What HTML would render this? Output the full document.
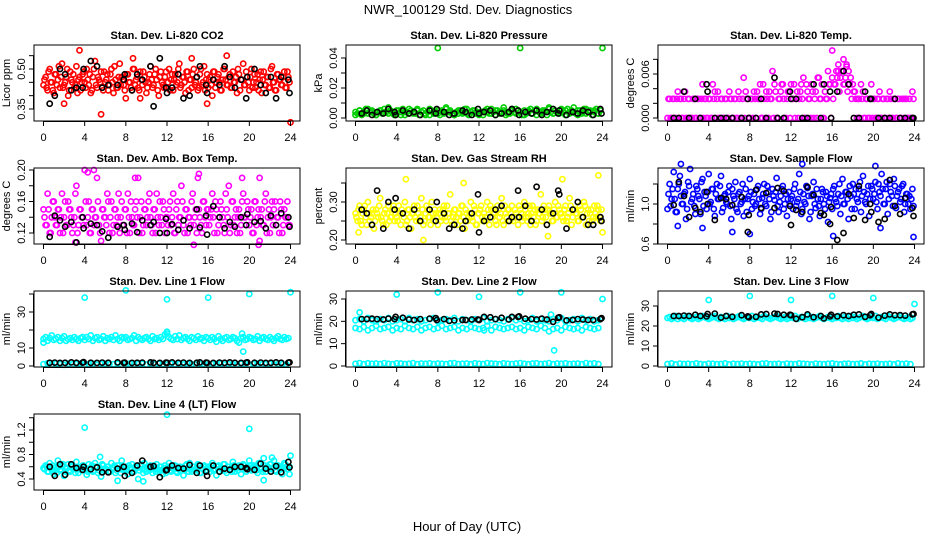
<!DOCTYPE html>
<html><head><meta charset="utf-8"><style>
html,body{margin:0;padding:0;background:#fff;}
svg{display:block;font-family:"Liberation Sans",Arial,sans-serif;}
</style></head><body>
<svg id="chart" width="936" height="540" viewBox="0 0 936 540" xmlns="http://www.w3.org/2000/svg">
<rect width="936" height="540" fill="#fff"/>
<text x="468" y="14" font-size="13" text-anchor="middle">NWR_100129  Std. Dev. Diagnostics</text>
<text x="467" y="531" font-size="13" text-anchor="middle">Hour of Day (UTC)</text>
</svg>
<script>
// ---------- data ----------
const xTicks = [0,4,8,12,16,20,24];
const mainHours = Array.from({length:120},(_,i)=>i*0.2);
const mainHours2 = Array.from({length:120},(_,i)=>i*0.2+0.1);
const halfHours = Array.from({length:60},(_,i)=>i*0.4);
const blackHours = [.6,1.1,1.6,2.1,2.7,3.2,3.8,3.9,4.6,5.2,5.7,6.3,7.2,7.8,7.9,8.6,9.1,9.6,10.4,10.7,11.3,11.9,12,12.5,13.1,13.6,14.2,14.9,15.2,15.8,15.9,16.5,17.1,17.6,18.1,18.6,19.2,19.7,19.8,20.5,21.1,21.6,22.1,22.6,23.1,23.8,23.9];

// P1 CO2
const co2Main = [.44,.47,.42,.50,.45,.41,.48,.46,.43,.52,.44,.47,.40,.49,.45,.43,.51,.46,.42,.48,
.45,.50,.44,.41,.47,.53,.43,.46,.49,.42,.45,.48,.44,.50,.41,.46,.43,.52,.47,.44,
.39,.48,.45,.42,.50,.46,.43,.49,.44,.47,.41,.45,.51,.43,.48,.46,.40,.49,.44,.47,
.43,.50,.46,.42,.48,.45,.52,.44,.47,.41,.49,.46,.43,.50,.45,.42,.48,.44,.51,.46,
.43,.47,.40,.49,.45,.48,.42,.46,.50,.44,.47,.43,.49,.45,.41,.48,.46,.52,.44,.47,
.42,.50,.45,.43,.48,.46,.41,.49,.44,.47,.43,.51,.45,.42,.48,.46,.44,.49,.43,.47];
const co2Main2 = [.46,.43,.49,.45,.42,.48,.44,.51,.47,.43,.45,.50,.42,.46,.48,.44,.41,.47,.45,.49,
.43,.46,.48,.42,.50,.44,.47,.45,.43,.49,.46,.42,.48,.45,.51,.43,.47,.44,.46,.42,
.48,.45,.43,.50,.44,.47,.42,.46,.49,.45,.43,.48,.46,.44,.50,.42,.47,.45,.43,.49,
.45,.42,.48,.46,.44,.50,.43,.47,.45,.49,.42,.46,.48,.44,.47,.43,.50,.45,.42,.48,
.46,.44,.49,.43,.47,.45,.42,.50,.46,.44,.48,.43,.45,.47,.50,.42,.46,.44,.49,.45,
.47,.43,.48,.45,.42,.49,.46,.44,.47,.43,.50,.45,.42,.48,.46,.44,.47,.43,.49,.45];
const co2OutHours = [3.5,8.7,5.6,24,17.8,9.4,2,15.9,14.4];
const co2OutVals = [.57,.54,.33,.30,.55,.39,.37,.37,.54];
const co2Black = [.37,.40,.50,.48,.42,.43,.43,.50,.53,.51,.43,.44,.44,.46,.48,.42,.48,.46,.51,.36,.54,.43,.41,.43,.48,.39,.40,.47,.51,.44,.41,.46,.44,.51,.47,.43,.46,.39,.47,.50,.44,.41,.47,.39,.47,.46,.41];

// P2 Pressure
const presMain = [.004,.003,.005,.002,.004,.006,.003,.004,.005,.003,.002,.004,.005,.003,.006,.004,.003,.005,.004,.002,
.003,.005,.004,.006,.002,.004,.003,.005,.004,.003,.006,.002,.004,.005,.003,.004,.002,.005,.003,.004,
.005,.002,.004,.003,.006,.004,.005,.003,.002,.004,.003,.005,.004,.006,.003,.002,.004,.005,.003,.004,
.003,.004,.002,.005,.004,.003,.006,.004,.002,.005,.003,.004,.005,.002,.004,.003,.006,.004,.003,.005,
.004,.002,.005,.003,.004,.006,.003,.005,.002,.004,.003,.005,.004,.002,.006,.004,.003,.005,.004,.003,
.005,.004,.002,.006,.003,.005,.004,.003,.002,.005,.004,.006,.003,.004,.005,.002,.004,.006,.003,.005];
const presMain2 = [.002,.005,.003,.006,.004,.002,.005,.004,.007,.003,.005,.002,.004,.006,.003,.005,.004,.002,.006,.004,
.003,.005,.007,.004,.002,.005,.003,.006,.004,.005,.002,.004,.006,.003,.005,.004,.007,.003,.005,.006,
.004,.002,.005,.003,.006,.004,.005,.007,.003,.004,.006,.005,.004,.007,.005,.003,.006,.004,.005,.003];
const presOutHours = [8,16,24];
const presOutVals = [.0467,.0467,.0467];
const presBlack = [.003,.005,.002,.004,.003,.006,.004,.002,.005,.003,.004,.002,.005,.003,.006,.004,.002,.003,.005,.004,.002,.006,.003,.004,.005,.002,.003,.004,.006,.005,.002,.004,.003,.005,.002,.004,.006,.003,.005,.002,.004,.003,.005,.004,.002,.006,.003];

// P3 Li-820 Temp
const tempMain = [0,.0026,0,.0026,0,.0036,.0026,0,.0026,0,.0026,0,0,.0026,0,.0026,0,.0046,.0026,0,
.0026,0,.0046,.0036,.0026,0,.0026,0,.0026,0,.0036,.0026,0,.0026,0,.0026,0,.0055,.0036,.0026,
0,.0026,.0036,0,.0026,.0046,0,.0026,.0036,0,.0026,.0064,.0046,0,.0026,.0036,.0046,0,.0026,.0036,
.0046,.0026,0,.0036,.0026,.0046,.0055,0,.0036,.0026,.0046,0,.0036,.0055,.0026,.0046,0,.0026,.0064,.0046,
.0055,.0046,.0064,.0073,.0055,.0064,.0046,.0073,.0064,.0055,.0046,.0036,0,.0026,.0046,.0036,0,.0026,0,.0046,
.0026,0,.0026,.0036,0,.0026,0,.0026,.0036,0,.0026,0,.0026,0,.0026,0,.0026,0,0,.0036];
const tempMain2 = [.0026,0,.0026,0,.0026,0,.0026,0,.0036,0,.0026,0,.0026,0,.0026,0,.0026,0,.0026,0,
.0026,0,.0026,0,.0036,0,.0026,0,.0026,0,.0026,0,.0026,0,.0036,0,.0026,0,.0026,0,
.0026,0,.0026,.0036,.0026,0,.0046,0,.0026,.0036,.0026,0,.0036,0,.0026,.0046,.0026,0,.0036,0,
.0026,.0046,.0026,0,.0036,.0026,0,.0046,.0026,0,.0036,.0026,0,.0055,.0026,0,.0036,.0026,.0046,0,
.0026,.0046,.0055,.0036,.0064,.0046,.0055,.0036,.0046,.0026,.0036,.0026,.0026,0,.0026,0,.0026,0,.0026,0,
.0026,0,.0026,0,.0026,0,.0026,0,.0026,0,.0026,0,.0026,0,.0026,.0026,0,.0026,0,.0026];
const tempOutHours = [16,17.1,16.6,17.4];
const tempOutVals = [.0092,.0080,.0064,.0070];
const tempBlack = [0,0,.0036,0,.0026,0,.0046,.0036,0,0,0,0,0,.0026,0,0,.0026,0,.0055,0,0,.0036,.0026,.0026,0,0,.0046,0,.0046,.0036,0,.0036,.0064,.0046,0,0,.0036,.0026,.0026,0,0,0,.0026,0,0,0,0];

// P4 Amb Box Temp
const ambMain = [.15,.13,.17,.12,.14,.16,.13,.15,.12,.17,.14,.13,.16,.15,.12,.14,.18,.13,.15,.14,
.20,.13,.16,.12,.15,.14,.19,.13,.11,.15,.14,.17,.12,.16,.13,.15,.14,.12,.16,.13,
.15,.17,.12,.14,.13,.16,.19,.14,.12,.15,.13,.16,.14,.12,.15,.17,.13,.14,.16,.12,
.14,.15,.13,.17,.12,.16,.14,.18,.13,.15,.12,.14,.16,.13,.15,.19,.14,.12,.16,.13,
.15,.14,.17,.12,.15,.13,.16,.14,.12,.15,.18,.13,.16,.14,.12,.15,.13,.17,.14,.16,
.13,.15,.12,.16,.14,.11,.15,.13,.17,.14,.12,.16,.15,.13,.14,.16,.12,.15,.14,.13];
const ambMain2 = [.14,.13,.15,.12,.16,.14,.13,.15,.14,.12,.16,.13,.15,.14,.13,.17,.12,.15,.14,.13,
.16,.14,.12,.15,.13,.14,.16,.12,.15,.14,.13,.16,.14,.12,.15,.13,.17,.14,.13,.15,
.12,.14,.16,.13,.15,.14,.12,.16,.13,.15,.14,.17,.13,.15,.12,.14,.16,.13,.15,.14,
.13,.16,.14,.12,.15,.13,.14,.16,.12,.15,.14,.13,.17,.14,.12,.15,.13,.16,.14,.15,
.13,.15,.14,.16,.12,.14,.15,.13,.17,.14,.12,.16,.13,.15,.14,.12,.16,.14,.13,.15,
.14,.12,.16,.13,.15,.14,.13,.16,.12,.15,.14,.13,.16,.14,.12,.15,.13,.14,.16,.13];
const ambOutHours = [4.3,4.9,8.9,15.1,19.3,21,14.6,20.9,3.1];
const ambOutVals = [.197,.20,.19,.195,.19,.19,.105,.105,.108];
const ambBlack = [.115,.142,.136,.128,.134,.108,.14,.126,.132,.13,.122,.114,.128,.13,.124,.132,.121,.136,.13,.134,.12,.138,.12,.131,.124,.136,.126,.15,.127,.142,.118,.154,.14,.126,.134,.128,.14,.13,.144,.134,.135,.126,.142,.13,.145,.14,.128];

// P5 Gas Stream RH
const rhMain = [.27,.25,.29,.24,.28,.26,.30,.25,.27,.23,.28,.26,.31,.25,.27,.24,.29,.26,.28,.25,
.26,.29,.24,.27,.30,.25,.28,.23,.27,.26,.29,.25,.31,.24,.27,.28,.26,.30,.25,.27,
.24,.28,.26,.29,.25,.27,.32,.24,.28,.26,.27,.25,.29,.23,.27,.26,.30,.25,.28,.24,
.27,.29,.25,.26,.30,.24,.28,.27,.25,.29,.26,.31,.24,.27,.28,.25,.29,.26,.27,.24,
.28,.25,.30,.26,.27,.24,.29,.28,.25,.27,.32,.26,.28,.24,.29,.27,.25,.30,.26,.28,
.27,.25,.29,.26,.31,.24,.28,.27,.25,.29,.26,.30,.24,.28,.27,.25,.29,.26,.28,.25];
const rhMain2 = [.26,.28,.25,.27,.29,.24,.27,.26,.28,.25,.27,.29,.26,.24,.28,.27,.25,.26,.29,.27,
.25,.27,.28,.26,.24,.28,.26,.27,.29,.25,.27,.26,.28,.25,.29,.26,.24,.27,.28,.26,
.27,.25,.28,.26,.29,.27,.25,.26,.28,.24,.27,.29,.26,.28,.25,.27,.26,.29,.24,.27,
.28,.26,.27,.25,.28,.29,.26,.27,.24,.28,.27,.25,.29,.26,.28,.27,.25,.28,.26,.29,
.27,.26,.28,.25,.29,.27,.26,.24,.28,.27,.25,.29,.26,.28,.27,.25,.28,.26,.29,.27,
.26,.28,.25,.27,.29,.26,.28,.27,.25,.28,.26,.29,.27,.25,.28,.26,.27,.29,.26,.28];
const rhOutHours = [4.9,10.5,20.1,23.6,6.6,18.7,0.3,24];
const rhOutVals = [.36,.35,.36,.37,.20,.21,.22,.22];
const rhBlack = [.28,.27,.24,.33,.23,.30,.28,.31,.27,.23,.28,.25,.28,.25,.30,.27,.23,.24,.23,.25,.27,.32,.22,.25,.26,.28,.29,.25,.26,.33,.26,.29,.25,.34,.28,.24,.27,.33,.32,.23,.28,.30,.26,.24,.24,.26,.25];

// P6 Sample Flow
const sfMain = [.95,1.20,1.05,1.32,.92,1.15,1.28,1.00,1.10,.85,1.22,1.35,1.05,.98,1.18,1.08,.90,1.25,1.12,.95,
1.30,1.02,1.15,.88,1.20,1.05,1.28,.96,1.10,1.00,1.18,.85,1.08,1.22,.92,1.12,1.02,.88,1.15,1.05,
1.25,.95,1.10,1.00,1.18,.90,1.06,1.20,.98,1.12,.85,1.15,1.04,1.26,.92,1.08,1.18,1.00,.88,1.12,
1.05,.95,1.20,1.02,1.30,.90,1.10,1.00,1.16,.85,1.08,1.22,.96,1.05,.88,1.15,1.00,1.12,.82,1.06,
.95,1.18,1.02,1.10,.90,1.25,1.00,1.12,.85,1.08,1.20,.95,1.05,1.15,.92,1.28,1.02,1.10,.88,1.18,
1.05,1.22,.95,1.12,1.30,1.00,1.15,.90,1.20,1.08,1.25,.96,1.12,1.02,1.18,.92,1.10,1.00,.95,1.15];
const sfMain2 = [1.10,.98,1.15,1.05,.92,1.20,1.08,1.00,1.12,.95,1.18,1.02,1.10,.90,1.15,1.05,1.22,.98,1.08,1.12,
1.00,1.15,.95,1.10,1.05,1.18,.92,1.08,1.02,1.12,.98,1.15,1.05,.95,1.10,1.00,1.20,1.05,.92,1.08,
1.12,1.02,.98,1.15,1.05,.95,1.10,1.00,1.18,1.05,.92,1.08,1.12,.98,1.02,1.15,.95,1.10,1.05,1.00,
1.08,1.15,.98,1.05,1.12,.95,1.02,1.18,1.08,.92,1.10,1.00,1.15,.98,1.05,1.12,.95,1.08,1.02,1.10,
1.15,1.05,.98,1.20,1.08,1.00,1.12,1.05,1.18,.95,1.10,1.15,1.02,1.22,1.08,1.12,1.00,1.18,1.05,1.15,
1.10,1.02,1.20,1.08,1.15,1.00,1.22,1.05,1.12,.98,1.18,1.08,1.15,1.05,1.20,1.00,1.10,1.08,1.05,.98];
const sfOutHours = [1.3,13.1,20.2,16.1,23.9,6.3,3.4,8.0,1.0,20.7];
const sfOutVals = [1.40,1.40,1.38,.68,.67,.72,.76,.70,.78,.76];
const sfBlack = [.99,1.22,1.08,.87,.96,.92,1.12,1.00,.84,1.06,1.05,.99,1.07,.72,.89,1.14,.96,1.11,.96,1.16,1.13,.98,.79,.94,.92,1.17,1.09,.91,.89,.80,.97,.64,.71,1.10,.86,1.18,.84,1.00,.92,.82,.85,1.24,.98,.90,1.06,.96,.88];

// P7 Line 1 Flow
const l1Main = [15,16,14,15.5,17,14.5,15,16,14,15.5,16.5,14,15,15.5,14.5,16,15,14,15.5,16,
14.5,16,15,17,14,15.5,16,14.5,15,16.5,14,15.5,15,16,14.5,17,15,14,16,15.5,
16,14.5,15,15.5,17,14,16,15,14.5,15.5,16,15,14,16.5,15,15.5,14.5,16,15,17.5,
18,16,15,14.5,16.5,15,17,14.5,15.5,16,15,14,16,15.5,14.5,16.5,15,15.5,14,16,
15.5,14.5,16,15,13.5,16.5,15,14,15.5,16,14.5,15,16,15.5,14,13,15.5,16,14.5,15,
16,15.5,14.5,15,16.5,14,15.5,16,15,14.5,16,15,14,15.5,16.5,15,14.5,16,15,15.5];
const l1Low = [1,1.5,.8,1.2,1,.6,1.3,.9,1.1,1.4,.8,1,1.2,.7,1.1,1.3,.9,1,1.2,.8,
1.1,1.4,.9,1,1.2,.8,1.1,.9,1.3,1,.8,1.2,1,1.1,.9,1.3,1,.8,1.2,1.1,
.9,1,1.2,1.3,.8,1.1,1,.9,1.2,1,.8,1.1,1.3,.9,1,1.2,.8,1.1,1,.9];
const l1OutHours = [4,8,12,16,20,24,19.4,19.3,12,0];
const l1OutVals = [38,42,37,38,40,41,8,18,19,13];
const l1Black = [1.8,1.9,1.7,1.8,2,1.8,1.9,2.1,1.8,1.7,1.9,1.8,2,1.8,1.9,1.7,1.8,1.9,2,1.8,1.7,1.9,1.8,2,1.8,1.9,1.7,1.8,2,1.9,1.8,1.7,1.9,1.8,2,1.8,1.7,1.9,2,1.8,1.9,1.7,1.8,2,1.8,1.9,2];

// P8 Line 2 Flow
const l2Upper = [20.5,21,20,21.5,20.5,20,21,20.5,21.5,20,20.5,21,20,21.5,20.5,21,20,20.5,21,21.5,
20,20.5,21,20.5,21.5,20,21,20.5,20,21,20.5,21.5,20,20.5,21,20.5,20,21,21.5,20.5,
21,20,20.5,21.5,20,21,20.5,20,21,20.5,21.5,20,20.5,21,20,21.5,20.5,21,20,20.5];
const l2Mid = [17,16.5,17.5,16,17,18,16.5,17,17.5,16,17,16.5,18,17,16.5,17.5,16,17,17.5,16.5,
17,18,16.5,17,17.5,16,17,16.5,17.5,17,16.5,17,18,16,17.5,17,16.5,17,17.5,16.5,
17,16,17.5,17,16.5,18,17,15.5,16.5,17,16,17.5,17,16.5,17,16,17.5,17,16.5,17];
const l2Low = [1,1.3,.8,1.2,1,1.1,.9,1.3,1,.8,1.2,1.1,.9,1,1.3,.8,1.1,1,1.2,.9,
1.1,1,.8,1.2,1.3,.9,1,1.1,.8,1.2,1,.9,1.3,1.1,1,.8,1.2,1,.9,1.1,
1.3,1,.8,1.1,1.2,.9,1,1.3,.8,1.1,1,1.2,.9,1,1.1,.8,1.3,1,1.2,.9];
const l2OutHours = [0.4,4,8,12,16,20,24,19.3,19,12.5];
const l2OutVals = [24,32,33,31,33,33,30,7,23,16];
const l2Black = [21,21,21.2,21,20.8,21.2,21,22,21.6,20.8,20.6,21,21.2,21.4,20.6,21,20.2,20.4,20.6,20.6,20.8,20.8,20.6,22,21.8,21,21.6,20.8,22,22,22.2,21.2,21,20.8,21.2,20.8,19.8,21.6,21.8,20.4,20.6,21,20.8,20.6,20.6,21,21.4];

// P9 Line 3 Flow
const l3Main = [24,24.5,23.5,24,25,23.5,24.5,24,23.5,24.5,25,24,23.5,24,24.5,23.5,24,25,24.5,24,
23.5,24,24.5,25,24,23.5,24.5,24,23.5,25,24,24.5,23.5,24,24.5,25,24,23.5,24,24.5,
24,25,23.5,24,24.5,24,23.5,25,24.5,24,23.5,24,24.5,25,24,23.5,24,24.5,23.5,24,
24.5,24,25,23.5,24,24.5,24,23.5,25,24,24.5,23.5,24,24.5,25,24,23.5,24,24.5,24,
23.5,24.5,24,25,24,23.5,24.5,24,23.5,25,24,24.5,23.5,24,24.5,25,24,23.5,24,24.5,
24,25,23.5,24,24.5,24,23.5,25,24.5,24,23.5,24,24.5,25,24,23.5,24,24.5,23.5,24];
const l3Low = [1,1.3,.8,1.2,1,1.1,.9,1.3,1,.8,1.2,1.1,.9,1,1.3,.8,1.1,1,1.2,.9,
1.1,1,.8,1.2,1.3,.9,1,1.1,.8,1.2,1,.9,1.3,1.1,1,.8,1.2,1,.9,1.1,
1.3,1,.8,1.1,1.2,.9,1,1.3,.8,1.1,1,1.2,.9,1,1.1,.8,1.3,1,1.2,.9];
const l3OutHours = [4,8,12,16,20,24];
const l3OutVals = [33,35,33,35,34,31];
const l3Black = [25,25,25.2,25,25.6,25,24.8,26,26.2,24.2,25,24.6,25.4,24.8,24.4,24.6,25.8,26,26.2,26,25.6,25.6,25.4,23.6,24.4,25.8,24.4,25,23.8,24.8,25.6,24.8,25.4,25,25.6,25.8,24.6,25.4,26,24.2,25.2,25.8,25.4,25.4,25.2,25.8,26];

// P10 Line 4 (LT) Flow
const l4Main = [.58,.62,.52,.66,.55,.48,.60,.70,.54,.62,.45,.58,.64,.52,.60,.56,.68,.50,.58,.62,
.55,.47,.64,.58,.52,.66,.60,.54,.44,.62,.56,.60,.52,.66,.58,.50,.62,.56,.70,.54,
.60,.48,.58,.64,.52,.60,.40,.62,.56,.66,.52,.58,.62,.50,.56,.64,.54,.60,.48,.62,
.56,.66,.52,.58,.62,.50,.60,.54,.46,.62,.58,.66,.52,.60,.56,.64,.50,.58,.62,.54,
.60,.52,.66,.56,.46,.62,.58,.54,.64,.50,.60,.56,.68,.52,.58,.62,.48,.64,.56,.60,
.70,.54,.62,.58,.50,.66,.56,.74,.52,.60,.64,.56,.70,.52,.62,.58,.48,.66,.60,.56];
const l4Main2 = [.56,.60,.52,.58,.62,.54,.50,.60,.56,.64,.52,.58,.54,.62,.56,.50,.60,.58,.54,.62,
.58,.52,.56,.62,.54,.60,.50,.58,.64,.54,.56,.60,.52,.58,.62,.54,.56,.50,.60,.58,
.54,.62,.56,.52,.60,.58,.54,.64,.50,.56,.60,.54,.58,.62,.52,.56,.60,.54,.58,.50,
.60,.54,.58,.62,.52,.56,.60,.58,.54,.64,.52,.56,.60,.54,.58,.62,.50,.56,.60,.54,
.58,.62,.54,.56,.60,.52,.58,.64,.54,.60,.56,.52,.62,.58,.54,.60,.56,.62,.52,.58,
.62,.56,.60,.54,.66,.58,.52,.62,.60,.56,.64,.58,.54,.62,.60,.56,.58,.64,.56,.60];
const l4OutHours = [4,12,20,24,5.5,7.2,21.4,22.2,23.9,9.7];
const l4OutVals = [1.24,1.45,1.22,.78,.76,.37,.38,.75,.48,.36];
const l4Black = [.60,.45,.64,.47,.64,.58,.55,.60,.56,.59,.51,.51,.57,.60,.45,.50,.62,.70,.60,.61,.43,.54,.55,.62,.58,.57,.63,.50,.62,.52,.45,.62,.52,.57,.55,.60,.60,.58,.56,.55,.65,.57,.52,.61,.51,.68,.59];

// y-axis tick arrays
const p1Ticks=[.35,.40,.45,.50,.55], p1Labels=["0.35","0.50"];
const p2Ticks=[0,.01,.02,.03,.04], p2Labels=["0.00","0.02","0.04"];
const p3Ticks=[0,.002,.004,.006,.008], p3Labels=["0.000","0.006"];
const p4Ticks=[.12,.14,.16,.18,.20], p4Labels=["0.12","0.16","0.20"];
const p5Ticks=[.20,.25,.30,.35], p5Labels=["0.20","0.30"];
const p6Ticks=[.6,.8,1.0,1.2], p6Labels=["0.6","1.0"];
const p7Ticks=[0,10,20,30,40], p7Labels=["0","10","30"];
const p8Ticks=[0,10,20,30], p8Labels=["0","10","20","30"];
const p9Ticks=[0,10,20,30], p9Labels=["0","10","20","30"];
const p10Ticks=[.4,.6,.8,1.0,1.2,1.4], p10Labels=["0.4","0.8","1.2"];

// ---------- drawing ----------
const NS="http://www.w3.org/2000/svg";
const svg=document.getElementById('chart');
function mk(tag,attrs,parent){const e=document.createElementNS(NS,tag);for(const k in attrs)e.setAttribute(k,attrs[k]);(parent||svg).appendChild(e);return e;}

const colLeft=[34,346,658], rowTop=[45,168,291,414], W=266, H=76;
const C={red:"#ff0000",green:"#00cd00",mag:"#ff00ff",yel:"#ffff00",blue:"#0000ff",cyan:"#00ffff",blk:"#000000"};

const panels=[
 {id:"co2",col:0,row:0,title:"Stan. Dev. Li-820 CO2",ylab:"Licor ppm",a:[.50,69,.35,109],ticks:p1Ticks,labels:p1Labels,
  series:[[mainHours,co2Main,C.red],[mainHours2,co2Main2,C.red],[co2OutHours,co2OutVals,C.red],[blackHours,co2Black,C.blk]]},
 {id:"pressure",col:1,row:0,title:"Stan. Dev. Li-820 Pressure",ylab:"kPa",a:[0,118,.04,58],ticks:p2Ticks,labels:p2Labels,
  series:[[mainHours,presMain,C.green],[halfHours,presMain2,C.green],[presOutHours,presOutVals,C.green],[blackHours,presBlack,C.blk]]},
 {id:"temp",col:2,row:0,title:"Stan. Dev. Li-820 Temp.",ylab:"degrees C",a:[0,118,.006,74],ticks:p3Ticks,labels:p3Labels,
  series:[[mainHours,tempMain,C.mag],[mainHours2,tempMain2,C.mag],[tempOutHours,tempOutVals,C.mag],[blackHours,tempBlack,C.blk]]},
 {id:"ambbox",col:0,row:1,title:"Stan. Dev. Amb. Box Temp.",ylab:"degrees C",a:[.20,170,.12,233],ticks:p4Ticks,labels:p4Labels,
  series:[[mainHours,ambMain,C.mag],[mainHours2,ambMain2,C.mag],[ambOutHours,ambOutVals,C.mag],[blackHours,ambBlack,C.blk]]},
 {id:"rh",col:1,row:1,title:"Stan. Dev. Gas Stream RH",ylab:"percent",a:[.30,202,.20,240],ticks:p5Ticks,labels:p5Labels,
  series:[[mainHours,rhMain,C.yel],[mainHours2,rhMain2,C.yel],[rhOutHours,rhOutVals,C.yel],[blackHours,rhBlack,C.blk]]},
 {id:"sampleflow",col:2,row:1,title:"Stan. Dev. Sample Flow",ylab:"ml/min",a:[1.0,204,.6,244],ticks:p6Ticks,labels:p6Labels,
  series:[[mainHours,sfMain,C.blue],[mainHours2,sfMain2,C.blue],[sfOutHours,sfOutVals,C.blue],[blackHours,sfBlack,C.blk]]},
 {id:"line1",col:0,row:2,title:"Stan. Dev. Line 1 Flow",ylab:"ml/min",a:[0,366,30,312],ticks:p7Ticks,labels:p7Labels,
  series:[[mainHours,l1Main,C.cyan],[halfHours,l1Low,C.cyan],[l1OutHours,l1OutVals,C.cyan],[blackHours,l1Black,C.blk]]},
 {id:"line2",col:1,row:2,title:"Stan. Dev. Line 2 Flow",ylab:"ml/min",a:[0,366,30,299],ticks:p8Ticks,labels:p8Labels,
  series:[[halfHours,l2Upper,C.cyan],[halfHours,l2Mid,C.cyan],[halfHours,l2Low,C.cyan],[l2OutHours,l2OutVals,C.cyan],[blackHours,l2Black,C.blk]]},
 {id:"line3",col:2,row:2,title:"Stan. Dev. Line 3 Flow",ylab:"ml/min",a:[0,366,30,306],ticks:p9Ticks,labels:p9Labels,
  series:[[mainHours,l3Main,C.cyan],[halfHours,l3Low,C.cyan],[l3OutHours,l3OutVals,C.cyan],[blackHours,l3Black,C.blk]]},
 {id:"line4",col:0,row:3,title:"Stan. Dev. Line 4 (LT) Flow",ylab:"ml/min",a:[.4,479,1.2,430],ticks:p10Ticks,labels:p10Labels,
  series:[[mainHours,l4Main,C.cyan],[mainHours2,l4Main2,C.cyan],[l4OutHours,l4OutVals,C.cyan],[blackHours,l4Black,C.blk]]}
];

panels.forEach(p=>{
  const L=colLeft[p.col], T=rowTop[p.row], R=L+W, B=T+H;
  const x0=L+9.5, x1=R-9.5;
  const xs=h=>x0+h*(x1-x0)/24;
  const [v1,py1,v2,py2]=p.a;
  const ys=v=>py1+(v-v1)*(py2-py1)/(v2-v1);
  const g=mk('g',{});
  
  
  const t=mk('text',{x:(L+R)/2,y:T-6,'font-size':11,'font-weight':'bold','text-anchor':'middle'},g);
  t.textContent=p.title;
  
  
  const yl=mk('text',{x:0,y:0,'font-size':11,'text-anchor':'middle',transform:`translate(${L-24},${(T+B)/2}) rotate(-90)`},g);
  yl.textContent=p.ylab;
  
  
  const pts=mk('g',{fill:'none','stroke-width':1.6},g);
  
  
  p.series.forEach(([hs,vs,col])=>{
    vs.forEach((v,i)=>{
      const c=mk('circle',{cx:xs(hs[i]).toFixed(1),cy:ys(v).toFixed(1),r:2.6,stroke:col},pts);
      
      
    });
  });
  const box=mk('rect',{x:L,y:T,width:W,height:H,fill:'none',stroke:'#000','stroke-width':1},g);
  
  
  const xa=mk('g',{},g);
  
  
  mk('line',{x1:xs(0),x2:xs(24),y1:B+0.5,y2:B+0.5,stroke:'#000'},xa);
  xTicks.forEach(h=>{
    mk('line',{x1:xs(h),x2:xs(h),y1:B,y2:B+5,stroke:'#000'},xa);
    const tl=mk('text',{x:xs(h),y:B+20,'font-size':11,'text-anchor':'middle'},xa);
    tl.textContent=String(h);
    
    
  });
  const ya=mk('g',{},g);
  
  
  mk('line',{x1:L-0.5,x2:L-0.5,y1:ys(p.ticks[0]),y2:ys(p.ticks[p.ticks.length-1]),stroke:'#000'},ya);
  p.ticks.forEach(v=>{ mk('line',{x1:L-5,x2:L,y1:ys(v),y2:ys(v),stroke:'#000'},ya); });
  p.labels.forEach(s=>{
    const yy=ys(parseFloat(s));
    const tl=mk('text',{x:0,y:0,'font-size':11,'text-anchor':'middle',transform:`translate(${L-9},${yy}) rotate(-90)`},ya);
    tl.textContent=s;
    
    
  });
});
</script>
</body></html>
